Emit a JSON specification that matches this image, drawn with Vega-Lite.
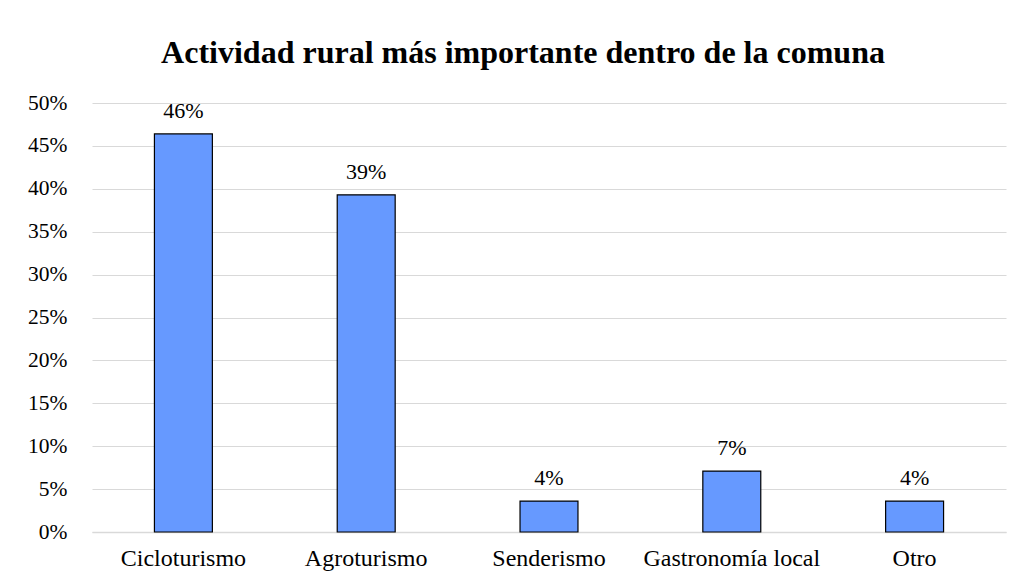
{
  "$schema": "https://vega.github.io/schema/vega-lite/v6.json",
  "width": 914,
  "height": 429,
  "autosize": {"type": "none"},
  "padding": {"left": 92, "top": 103, "right": 17, "bottom": 51},
  "background": "white",
  "title": {
    "text": "Actividad rural más importante dentro de la comuna",
    "font": "Liberation Serif",
    "fontSize": 32,
    "fontWeight": "bold",
    "color": "#000000",
    "anchor": "middle",
    "frame": "group",
    "dx": -26,
    "offset": 22
  },
  "data": {
    "values": [
      {"actividad": "Cicloturismo", "pct": 0.464, "label": "46%"},
      {"actividad": "Agroturismo", "pct": 0.393, "label": "39%"},
      {"actividad": "Senderismo", "pct": 0.036, "label": "4%"},
      {"actividad": "Gastronomía local", "pct": 0.071, "label": "7%"},
      {"actividad": "Otro", "pct": 0.036, "label": "4%"}
    ]
  },
  "encoding": {
    "x": {
      "field": "actividad",
      "type": "nominal",
      "sort": null,
      "scale": {"paddingInner": 0.683, "paddingOuter": 0.3415},
      "axis": {
        "title": null,
        "labelAngle": 0,
        "labelFont": "Liberation Serif",
        "labelFontSize": 24,
        "labelColor": "#000000",
        "labelPadding": 14,
        "ticks": false,
        "domain": true,
        "domainColor": "#d9d9d9",
        "domainWidth": 1.5
      }
    },
    "y": {
      "field": "pct",
      "type": "quantitative",
      "scale": {"domain": [0, 0.5], "nice": false},
      "axis": {
        "title": null,
        "format": ".0%",
        "values": [0, 0.05, 0.1, 0.15, 0.2, 0.25, 0.3, 0.35, 0.4, 0.45, 0.5],
        "labelFont": "Liberation Serif",
        "labelFontSize": 21.5,
        "labelColor": "#000000",
        "labelPadding": 25,
        "ticks": false,
        "domain": false,
        "grid": true,
        "gridColor": "#d9d9d9",
        "gridWidth": 1.2
      }
    }
  },
  "layer": [
    {
      "mark": {"type": "bar", "color": "#6699ff", "stroke": "#000000", "strokeWidth": 1.2}
    },
    {
      "mark": {
        "type": "text",
        "baseline": "alphabetic",
        "dy": -16,
        "font": "Liberation Serif",
        "fontSize": 22,
        "color": "#000000"
      },
      "encoding": {"text": {"field": "label"}}
    }
  ],
  "config": {"view": {"stroke": null}}
}
